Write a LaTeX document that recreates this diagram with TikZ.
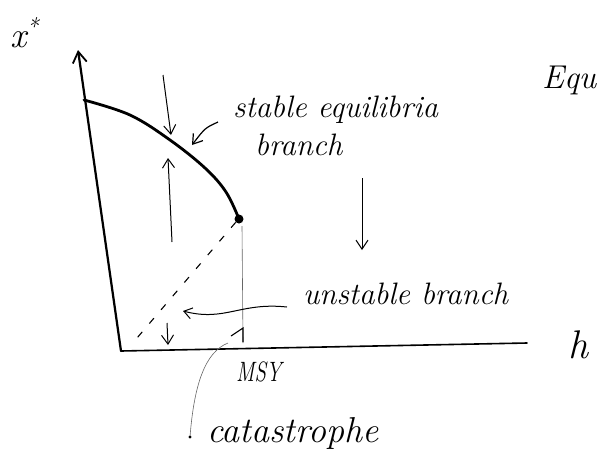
\documentclass[tikz,border=0pt]{standalone}
\usepackage{fontspec}
\usetikzlibrary{arrows.meta}
\begin{document}
\begin{tikzpicture}[x=1pt,y=-1pt,
  axis/.style={line width=2.2pt, black, line cap=round},
  branchline/.style={line width=2.8pt, black, line cap=round},
  flowarrow/.style={line width=1pt, black, -{Straight Barb[length=9pt,width=12pt,line width=1pt]}},
  pointer/.style={line width=1pt, black},
  lbl/.style={font=\fontsize{31}{33}\selectfont\itshape, inner sep=0pt, anchor=west},
  faint/.style={line width=0.6pt, black!60}
]
\useasboundingbox (0,0) rectangle (603,459);
% axes
\coordinate (O) at (121,351);
\coordinate (Ytop) at (78,50);
\coordinate (Xend) at (527,343);
\draw[axis,-{Straight Barb[length=11pt,width=14pt,line width=1.8pt]}] (O) -- (Ytop);
\draw[axis, line width=1.6pt] (O) -- (Xend);
% stable branch
\coordinate (B0) at (84,100);
\node[circle, fill=black, inner sep=0pt, minimum size=9pt] (dot) at (239,219) {};
\draw[branchline] plot[smooth, tension=0.6] coordinates {(B0) (130,115) (170,140) (205,168) (226,192) (dot.center)};
% unstable branch (dashed)
\coordinate (U) at (137,338);
\draw[line width=1.1pt, dash pattern=on 7pt off 11pt] (dot.south west) -- (U);
% vertical line to MSY
\coordinate (M) at (243,343);
\draw[faint] (242,226) -- (M);
\draw[line width=1.1pt] (231,336) -- (243,328) -- (243,342);
% flow arrows
\coordinate (a1s) at (163,75);  \coordinate (a1e) at (171,135);
\coordinate (a2s) at (172,242); \coordinate (a2e) at (168,158);
\coordinate (a3s) at (362,178); \coordinate (a3e) at (362,250);
\coordinate (a4s) at (167,323); \coordinate (a4e) at (168,345);
\draw[flowarrow] (a1s) -- (a1e);
\draw[flowarrow] (a2s) -- (a2e);
\draw[flowarrow] (a3s) -- (a3e);
\draw[flowarrow] (a4s) -- (a4e);
% labels
\node[lbl, font=\fontsize{36}{38}\selectfont\itshape] (xs) at (10,33) {x\raisebox{12pt}{\fontsize{24}{24}\selectfont *}};
\node[lbl] (stab) at (233,110) {stable equilibria};
\node[lbl] (brn) at (255,145) {branch};
\node[lbl] (unst) at (303,294) {unstable branch};
\node[lbl, font=\fontsize{28}{30}\selectfont\itshape] (msy) at (236,372) {\scalebox{0.75}[1]{MSY}};
\node[lbl, font=\fontsize{36}{38}\selectfont\itshape] (cat) at (207,433) {catastrophe};
\node[lbl, font=\fontsize{40}{42}\selectfont\itshape] (h) at (568,345) {h};
\node[lbl, font=\fontsize{33}{35}\selectfont\itshape] (equ) at (542,80) {Equ};
% pointers
\coordinate (p1s) at (218,122); \coordinate (p1e) at (192,145);
\draw[pointer, line width=1.2pt, -{Straight Barb[length=9pt,width=12pt,line width=1.2pt]}] (p1s) .. controls (205,128) .. (p1e);
\coordinate (p2s) at (287,307); \coordinate (p2e) at (183,311);
\draw[pointer, -{Straight Barb[length=8pt,width=11pt,line width=1pt]}] (p2s) .. controls (240,302) and (225,322) .. (p2e);
\coordinate (p3s) at (190,437); \coordinate (p3e) at (228,343);
\draw[faint] (p3s) .. controls (194,385) and (205,352) .. (p3e);
\fill (p3s) circle (1.6pt);
\end{tikzpicture}
\end{document}
